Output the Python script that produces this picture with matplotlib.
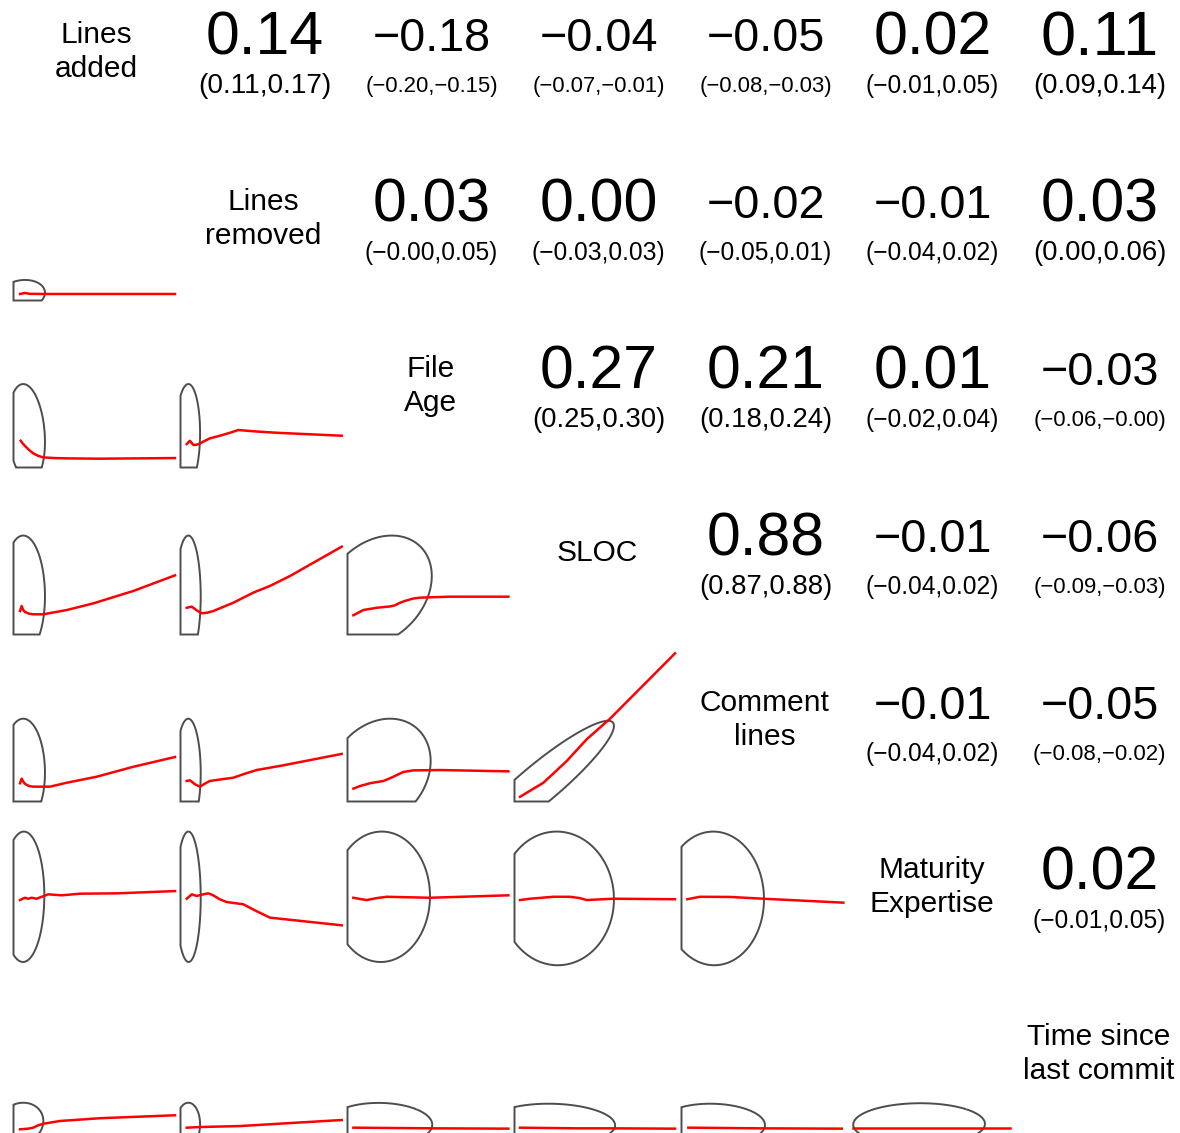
import numpy as np
import matplotlib
matplotlib.use("Agg")
import matplotlib.pyplot as plt
from matplotlib.patches import Polygon

plt.rcParams['font.family'] = ['Liberation Sans', 'DejaVu Sans']

# variable names on the diagonal
labels = ["Lines\nadded", "Lines\nremoved", "File\nAge", "SLOC",
          "Comment\nlines", "Maturity\nExpertise", "Time since\nlast commit"]

# upper panels: correlation estimate and confidence interval, row-major (i < j)
pairs_upper = [(0, 1), (0, 2), (0, 3), (0, 4), (0, 5), (0, 6),
               (1, 2), (1, 3), (1, 4), (1, 5), (1, 6),
               (2, 3), (2, 4), (2, 5), (2, 6),
               (3, 4), (3, 5), (3, 6),
               (4, 5), (4, 6),
               (5, 6)]
est = [0.14, -0.18, -0.04, -0.05, 0.02, 0.11,
       0.03, 0.00, -0.02, -0.01, 0.03,
       0.27, 0.21, 0.01, -0.03,
       0.88, -0.01, -0.06,
       -0.01, -0.05,
       0.02]
ci_lo = [0.11, -0.20, -0.07, -0.08, -0.01, 0.09,
         -0.0, -0.03, -0.05, -0.04, 0.00,
         0.25, 0.18, -0.02, -0.06,
         0.87, -0.04, -0.09,
         -0.04, -0.08,
         -0.01]
ci_hi = [0.17, -0.15, -0.01, -0.03, 0.05, 0.14,
         0.05, 0.03, 0.01, 0.02, 0.06,
         0.30, 0.24, 0.04, -0.0,
         0.88, 0.02, -0.03,
         0.02, -0.02,
         0.05]

# lower panels: data ellipse (centre, spread, correlation) in panel units
pairs_lower = [(1, 0), (2, 0), (2, 1), (3, 0), (3, 1), (3, 2),
               (4, 0), (4, 1), (4, 2), (4, 3),
               (5, 0), (5, 1), (5, 2), (5, 3), (5, 4),
               (6, 0), (6, 1), (6, 2), (6, 3), (6, 4), (6, 5)]
ell_r = [0.14, -0.18, 0.03, -0.04, 0.00, 0.27,
         -0.05, -0.02, 0.21, 0.92,
         0.02, -0.01, 0.01, -0.01, -0.01,
         0.11, 0.03, -0.03, -0.06, -0.05, 0.02]
ell_cx = [0.051, 0.080, 0.046, 0.065, 0.048, 0.180,
          0.066, 0.049, 0.195, 0.150,
          0.061, 0.049, 0.207, 0.262, 0.198,
          0.045, 0.046, 0.200, 0.231, 0.192, 0.433]
ell_cy = [0.035, 0.212, 0.203, 0.250, 0.236, 0.267,
          0.193, 0.183, 0.179, 0.105,
          0.440, 0.440, 0.440, 0.430, 0.430,
          0.075, 0.065, 0.070, 0.070, 0.070, 0.069]
ell_sx = [0.142, 0.113, 0.074, 0.128, 0.076, 0.337,
          0.127, 0.075, 0.315, 0.460,
          0.128, 0.075, 0.299, 0.348, 0.308,
          0.138, 0.074, 0.320, 0.386, 0.320, 0.404]
ell_sy = [0.091, 0.300, 0.309, 0.357, 0.371, 0.340,
          0.315, 0.325, 0.329, 0.390,
          0.400, 0.400, 0.400, 0.410, 0.410,
          0.126, 0.136, 0.130, 0.125, 0.125, 0.129]

# smoothed trend lines in the lower panels
trend_x = {
    (1, 0): [0.04, 0.07, 0.10, 0.19, 0.50, 0.991],
    (2, 0): [0.044, 0.058, 0.071, 0.095, 0.121, 0.150, 0.183, 0.250, 0.326, 0.531, 0.991],
    (2, 1): [0.038, 0.058, 0.079, 0.100, 0.120, 0.150, 0.181, 0.242, 0.300, 0.355, 0.450, 0.590, 0.989],
    (3, 0): [0.040, 0.050, 0.060, 0.071, 0.095, 0.121, 0.183, 0.326, 0.490, 0.735, 0.991],
    (3, 1): [0.038, 0.069, 0.100, 0.130, 0.165, 0.201, 0.324, 0.447, 0.549, 0.672, 0.989],
    (3, 2): [0.036, 0.097, 0.179, 0.260, 0.291, 0.320, 0.353, 0.400, 0.445, 0.629, 0.987],
    (4, 0): [0.040, 0.050, 0.060, 0.071, 0.095, 0.121, 0.224, 0.326, 0.510, 0.735, 0.991],
    (4, 1): [0.038, 0.058, 0.090, 0.120, 0.150, 0.181, 0.250, 0.324, 0.400, 0.467, 0.631, 0.989],
    (4, 2): [0.036, 0.077, 0.138, 0.220, 0.250, 0.281, 0.342, 0.404, 0.567, 0.987],
    (4, 3): [0.034, 0.177, 0.320, 0.443, 0.586, 0.985],
    (5, 0): [0.040, 0.056, 0.071, 0.090, 0.112, 0.142, 0.173, 0.213, 0.296, 0.408, 0.633, 0.991],
    (5, 1): [0.038, 0.069, 0.099, 0.140, 0.171, 0.201, 0.240, 0.283, 0.385, 0.470, 0.549, 0.989],
    (5, 2): [0.036, 0.080, 0.118, 0.180, 0.240, 0.506, 0.987],
    (5, 3): [0.034, 0.095, 0.238, 0.340, 0.400, 0.443, 0.606, 0.985],
    (5, 4): [0.036, 0.113, 0.298, 0.502, 0.993],
    (6, 0): [0.040, 0.090, 0.121, 0.150, 0.183, 0.285, 0.531, 0.991],
    (6, 1): [0.038, 0.120, 0.365, 0.989],
    (6, 2): [0.036, 0.527, 0.987],
    (6, 3): [0.034, 0.382, 0.586, 0.985],
    (6, 4): [0.042, 0.482, 0.983],
    (6, 5): [0.029, 0.377, 0.991],
}
trend_y = {
    (1, 0): [0.040, 0.046, 0.041, 0.040, 0.040, 0.040],
    (2, 0): [0.164, 0.146, 0.132, 0.108, 0.087, 0.072, 0.062, 0.058, 0.056, 0.054, 0.058],
    (2, 1): [0.144, 0.164, 0.138, 0.140, 0.148, 0.164, 0.179, 0.195, 0.212, 0.230, 0.222, 0.213, 0.195],
    (3, 0): [0.144, 0.175, 0.150, 0.138, 0.128, 0.124, 0.124, 0.150, 0.191, 0.267, 0.363],
    (3, 1): [0.164, 0.171, 0.148, 0.130, 0.134, 0.144, 0.195, 0.257, 0.298, 0.359, 0.539],
    (3, 2): [0.118, 0.150, 0.164, 0.172, 0.179, 0.194, 0.206, 0.220, 0.226, 0.232, 0.232],
    (4, 0): [0.112, 0.140, 0.122, 0.108, 0.095, 0.091, 0.091, 0.115, 0.152, 0.213, 0.273],
    (4, 1): [0.126, 0.130, 0.105, 0.091, 0.110, 0.126, 0.136, 0.146, 0.172, 0.193, 0.222, 0.292],
    (4, 2): [0.079, 0.095, 0.112, 0.126, 0.138, 0.152, 0.181, 0.191, 0.193, 0.185],
    (4, 3): [0.029, 0.115, 0.248, 0.382, 0.508, 0.909],
    (5, 0): [0.420, 0.428, 0.434, 0.428, 0.434, 0.428, 0.440, 0.455, 0.449, 0.459, 0.461, 0.475],
    (5, 1): [0.428, 0.455, 0.445, 0.455, 0.461, 0.449, 0.425, 0.408, 0.394, 0.350, 0.312, 0.265],
    (5, 2): [0.434, 0.426, 0.420, 0.432, 0.440, 0.434, 0.449],
    (5, 3): [0.420, 0.428, 0.440, 0.440, 0.432, 0.420, 0.428, 0.425],
    (5, 4): [0.425, 0.440, 0.439, 0.428, 0.404],
    (6, 0): [0.038, 0.042, 0.048, 0.062, 0.072, 0.089, 0.106, 0.124],
    (6, 1): [0.048, 0.052, 0.058, 0.095],
    (6, 2): [0.048, 0.044, 0.042],
    (6, 3): [0.048, 0.044, 0.044, 0.042],
    (6, 4): [0.048, 0.044, 0.042],
    (6, 5): [0.048, 0.048, 0.048],
}

W, H = 1180, 1133
fig = plt.figure(figsize=(W / 100, H / 100), dpi=100)
renderer = fig.canvas.get_renderer()

n = len(labels)
cell = 167
size = 163
axes = {}
for i in range(n):
    for j in range(n):
        left = 13.5 + cell * j
        bottom = H - (133.5 + cell * i)
        ax = fig.add_axes([left / W, bottom / H, size / W, size / H])
        ax.set_xlim(0, 1)
        ax.set_ylim(0, 1)
        ax.axis('off')
        axes[(i, j)] = ax


def fmt(v):
    return f"{v:.2f}".replace("-", "\u2212")


def fit_text(ax, x, y, s, target):
    t = ax.text(x, y, s, fontsize=40, ha='center', va='center', transform=ax.transAxes)
    w = t.get_window_extent(renderer).width
    t.set_fontsize(40 * target / w)


def clip_square(pts):
    # Sutherland-Hodgman against the unit square
    def clip(poly, inside, inter):
        out = []
        for k in range(len(poly)):
            p, q = poly[k - 1], poly[k]
            if inside(q):
                if not inside(p):
                    out.append(inter(p, q))
                out.append(q)
            elif inside(p):
                out.append(inter(p, q))
        return out

    def ix(c):
        return lambda p, q: (c, p[1] + (q[1] - p[1]) * (c - p[0]) / (q[0] - p[0]))

    def iy(c):
        return lambda p, q: (p[0] + (q[0] - p[0]) * (c - p[1]) / (q[1] - p[1]), c)

    poly = [tuple(p) for p in pts]
    poly = clip(poly, lambda p: p[0] >= 0, ix(0.0))
    poly = clip(poly, lambda p: p[0] <= 1, ix(1.0))
    poly = clip(poly, lambda p: p[1] >= 0, iy(0.0))
    poly = clip(poly, lambda p: p[1] <= 1, iy(1.0))
    return np.array(poly)


# diagonal
for i, lab in enumerate(labels):
    axes[(i, i)].text(0.509, 0.5, lab, ha='center', va='center', fontsize=21.5,
                      linespacing=1.27, transform=axes[(i, i)].transAxes)

# upper
for k, (i, j) in enumerate(pairs_upper):
    ax = axes[(i, j)]
    fit_text(ax, 0.518, 0.579, fmt(est[k]), 118)
    fit_text(ax, 0.516, 0.29, "(" + fmt(ci_lo[k]) + "," + fmt(ci_hi[k]) + ")", 133)

# lower
a = np.linspace(0, 2 * np.pi, 240)
for k, (i, j) in enumerate(pairs_lower):
    ax = axes[(i, j)]
    d = np.arccos(ell_r[k])
    ex = ell_cx[k] + ell_sx[k] * np.cos(a + d / 2)
    ey = ell_cy[k] + ell_sy[k] * np.cos(a - d / 2)
    poly = clip_square(np.column_stack([ex, ey]))
    ax.add_patch(Polygon(poly, closed=True, fill=False, edgecolor='#4d4d4d',
                         lw=1.4, clip_on=False))
    ax.plot(trend_x[(i, j)], trend_y[(i, j)], color='red', lw=1.8, clip_on=False,
            solid_joinstyle='round')

fig.savefig("out.png", dpi=100)
